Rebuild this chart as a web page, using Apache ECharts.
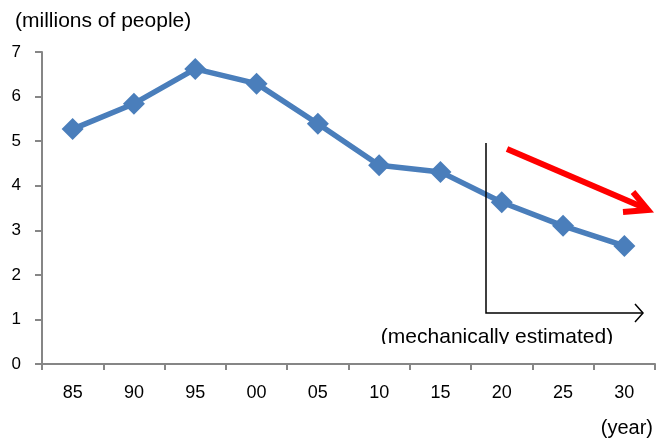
<!DOCTYPE html>
<html>
<head>
<meta charset="utf-8">
<title>Population trend</title>
<script src="https://cdn.jsdelivr.net/npm/echarts@6/dist/echarts.min.js"></script>
<style>
  html, body { margin: 0; padding: 0; background: #fff; }
  #chart { width: 656px; height: 439px; }
</style>
</head>
<body>
<div id="chart"></div>
<script>
// Year labels (two-digit) and population in millions
const years = ['85', '90', '95', '00', '05', '10', '15', '20', '25', '30'];
const population = [5.27, 5.84, 6.62, 6.29, 5.39, 4.46, 4.31, 3.63, 3.10, 2.65];
const yTicks = [0, 1, 2, 3, 4, 5, 6, 7];

const FONT = 'Liberation Sans, Arial, sans-serif';
const AXIS_GRAY = '#868686';
const BLUE = '#4A7EBB';

const chart = echarts.init(document.getElementById('chart'), null, { renderer: 'canvas' });

chart.setOption({
  animation: false,
  backgroundColor: '#ffffff',
  grid: { left: 42, right: 1, top: 52, bottom: 75, containLabel: false },
  xAxis: {
    type: 'category',
    data: years,
    boundaryGap: true,
    axisLine: { lineStyle: { color: AXIS_GRAY, width: 2 } },
    axisTick: { show: true, length: 6, lineStyle: { color: AXIS_GRAY, width: 2 } },
    axisLabel: { color: '#000', fontFamily: FONT, fontSize: 18, margin: 20 },
    splitLine: { show: false }
  },
  yAxis: {
    type: 'value',
    min: yTicks[0],
    max: yTicks[yTicks.length - 1],
    interval: 1,
    axisLine: { show: true, lineStyle: { color: AXIS_GRAY, width: 2 } },
    axisTick: { show: true, length: 7, lineStyle: { color: AXIS_GRAY, width: 2 } },
    axisLabel: { color: '#000', fontFamily: FONT, fontSize: 17, margin: 21 },
    splitLine: { show: false }
  },
  series: [{
    type: 'line',
    data: population,
    symbol: 'diamond',
    symbolSize: 22,
    lineStyle: { color: BLUE, width: 5.5 },
    itemStyle: { color: BLUE },
    z: 3
  }],
  graphic: [
    {
      type: 'text', left: 15, top: 11,
      style: { text: '(millions of people)', font: '21px ' + FONT, fill: '#000' }
    },
    {
      type: 'text', right: 3, top: 418,
      style: { text: '(year)', font: '20px ' + FONT, fill: '#000' }
    },
    // projection bracket
    {
      type: 'polyline', z: 10,
      shape: { points: [[486, 143], [486, 313], [643, 313]] },
      style: { stroke: '#000', lineWidth: 1.5, fill: null }
    },
    {
      type: 'polyline', z: 10,
      shape: { points: [[635, 304], [643, 313], [635, 322]] },
      style: { stroke: '#000', lineWidth: 1.5, fill: null }
    },
    {
      type: 'text', z: 10, x: 497, y: 348,
      style: {
        text: '(mechanically estimated)', font: '21px ' + FONT, fill: '#000',
        align: 'center', verticalAlign: 'bottom'
      }
    },
    {
      type: 'rect', z: 11,
      shape: { x: 370, y: 344, width: 260, height: 10 },
      style: { fill: '#ffffff' }
    },
    // downward trend arrow
    {
      type: 'polyline', z: 10,
      shape: { points: [[507, 149], [647, 209]] },
      style: { stroke: '#ff0000', lineWidth: 6, fill: null }
    },
    {
      type: 'polyline', z: 10,
      shape: { points: [[633, 192], [648, 210], [623, 212]] },
      style: { stroke: '#ff0000', lineWidth: 6, fill: null, lineJoin: 'miter' }
    }
  ]
});
</script>
</body>
</html>
